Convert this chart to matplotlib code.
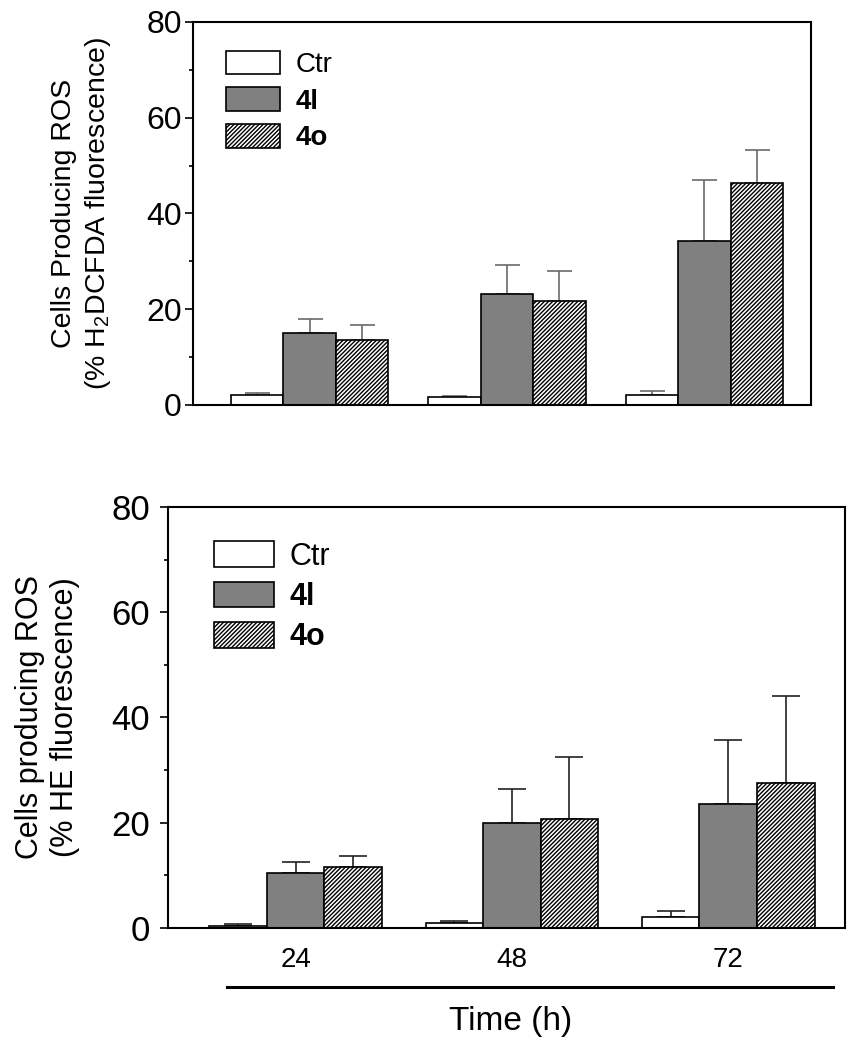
import matplotlib
matplotlib.use('Agg')
import matplotlib.pyplot as plt
from matplotlib.lines import Line2D
import numpy as np

plt.rcParams['font.family'] = ['Liberation Sans', 'DejaVu Sans']
plt.rcParams['mathtext.default'] = 'regular'
plt.rcParams['hatch.linewidth'] = 1.0

times = ['24', '48', '72']
labels = ['Ctr', '4l', '4o']

# H2DCFDA panel (top)
top_ctr = [2.1, 1.7, 2.1]
top_ctr_err = [0.3, 0.2, 0.9]
top_4l = [15.0, 23.2, 34.3]
top_4l_err = [2.9, 6.0, 12.6]
top_4o = [13.6, 21.7, 46.4]
top_4o_err = [3.2, 6.3, 6.8]

# HE panel (bottom)
bot_ctr = [0.4, 1.0, 2.0]
bot_ctr_err = [0.4, 0.3, 1.2]
bot_4l = [10.5, 19.9, 23.5]
bot_4l_err = [2.1, 6.5, 12.2]
bot_4o = [11.5, 20.8, 27.5]
bot_4o_err = [2.2, 11.6, 16.5]

fig = plt.figure(figsize=(8.59, 10.5), dpi=100)
ax1 = fig.add_axes([0.2247, 0.6143, 0.7194, 0.3648])
ax2 = fig.add_axes([0.1956, 0.1162, 0.7881, 0.4010])

x = np.arange(len(times))
w = 0.266


def draw_panel(ax, ctr, ctr_err, l4, l4_err, o4, o4_err, err_color, capsize):
    styles = [
        dict(color='white', hatch=None),
        dict(color='#808080', hatch=None),
        dict(color='white', hatch='////////'),
    ]
    vals = [(ctr, ctr_err), (l4, l4_err), (o4, o4_err)]
    bars = []
    for i, ((v, e), st) in enumerate(zip(vals, styles)):
        b = ax.bar(x + (i - 1) * w, v, w, color=st['color'], edgecolor='black',
                   linewidth=1.2, hatch=st['hatch'], label=labels[i], zorder=2)
        ax.errorbar(x + (i - 1) * w, v, yerr=[np.zeros(len(e)), e], fmt='none',
                    ecolor=err_color, elinewidth=1.2, capsize=capsize,
                    capthick=1.2, zorder=1)
        bars.append(b)
    ax.set_xlim(-0.59, 2.54)
    ax.set_ylim(0, 80)
    ax.set_yticks([0, 20, 40, 60, 80])
    ax.set_yticks([10, 30, 50, 70], minor=True)
    for s in ax.spines.values():
        s.set_linewidth(1.5)
    ax.tick_params(axis='y', which='major', length=6, width=1.2, direction='out')
    ax.tick_params(axis='y', which='minor', length=3, width=1.2, direction='out')
    return bars


bars1 = draw_panel(ax1, top_ctr, top_ctr_err, top_4l, top_4l_err, top_4o, top_4o_err,
                   '#6a6a6a', 9)
bars2 = draw_panel(ax2, bot_ctr, bot_ctr_err, bot_4l, bot_4l_err, bot_4o, bot_4o_err,
                   '#222222', 10)

ax1.set_xticks([])
ax1.tick_params(axis='y', which='major', labelsize=23, pad=2)
ax1.set_ylabel('Cells Producing ROS\n(% H$_2$DCFDA fluorescence)', fontsize=20.5,
               linespacing=1.25)
ax1.yaxis.set_label_coords(-0.13, 0.5)

ax2.set_xticks(x)
ax2.set_xticklabels(times, fontsize=20)
ax2.tick_params(axis='x', length=0, pad=14)
ax2.tick_params(axis='y', which='major', labelsize=25, pad=7)
ax2.set_ylabel('Cells producing ROS\n(% HE fluorescence)', fontsize=22,
               linespacing=1.2)
ax2.yaxis.set_label_coords(-0.13, 0.5)

leg1 = ax1.legend(handles=bars1, loc='upper left', bbox_to_anchor=(0.053, 0.925),
                  frameon=False, fontsize=20, handlelength=1.95, handleheight=0.94,
                  labelspacing=0.33, handletextpad=0.55, borderpad=0, borderaxespad=0)
leg2 = ax2.legend(handles=bars2, loc='upper left', bbox_to_anchor=(0.068, 0.918),
                  frameon=False, fontsize=22, handlelength=1.96, handleheight=0.92,
                  labelspacing=0.32, handletextpad=0.5, borderpad=0, borderaxespad=0)
for leg in (leg1, leg2):
    texts = leg.get_texts()
    texts[1].set_fontweight('bold')
    texts[2].set_fontweight('bold')

fig.add_artist(Line2D([0.2643, 0.9697], [0.06, 0.06], color='black', linewidth=2.2,
                      transform=fig.transFigure))
fig.text(0.594, 0.027, 'Time (h)', fontsize=24, ha='center', va='center')

fig.savefig('out.png', dpi=100)
